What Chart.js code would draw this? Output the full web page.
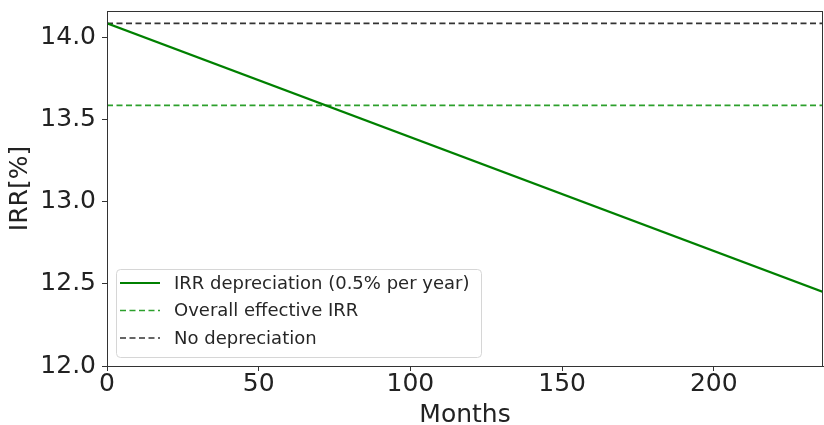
<!DOCTYPE html>
<html>
<head>
<meta charset="utf-8">
<script src="https://cdn.jsdelivr.net/npm/chart.js@4.4.0/dist/chart.umd.min.js"></script>
<style>
  html, body { margin: 0; padding: 0; background: #fff; }
  #wrap { width: 824px; height: 425px; }
</style>
</head>
<body>
<div id="wrap"><canvas id="irr_chart" width="824" height="425"></canvas></div>
<script>
// values
var months = [0, 236];
var irrDepreciation = [14.085, 12.45];
var overallEffective = [13.586, 13.586];
var noDepreciation = [14.085, 14.085];
var xTicks = [0, 50, 100, 150, 200];
var yTicks = [12.0, 12.5, 13.0, 13.5, 14.0];
var seriesLabels = ["IRR depreciation (0.5% per year)", "Overall effective IRR", "No depreciation"];

function pts(ys) {
    return months.map(function (m, i) { return { x: m, y: ys[i] }; });
}

// matplotlib-style frame + legend inside the axes
var framePlugin = {
    id: "frame",
    afterDraw: function (chart) {
        var c = chart.ctx, a = chart.chartArea;
        c.save();
        c.strokeStyle = "#333";
        c.lineWidth = 1;
        c.strokeRect(a.left + 0.5, a.top + 0.5, a.right - a.left - 1, a.bottom - a.top);

        // legend
        var bx = a.left + 9, by = a.bottom - 97, bw = 365, bh = 88, r = 4;
        c.fillStyle = "rgba(255,255,255,0.8)";
        c.strokeStyle = "#d6d6d6";
        c.beginPath();
        c.roundRect(bx + 0.5, by + 0.5, bw, bh, r);
        c.fill();
        c.stroke();
        c.font = "18px 'DejaVu Sans'";
        c.textBaseline = "middle";
        chart.data.datasets.forEach(function (ds, i) {
            var yy = by + 14 + i * 27.5;
            c.strokeStyle = ds.borderColor;
            c.lineWidth = ds.borderWidth;
            c.setLineDash(ds.borderDash || []);
            c.beginPath();
            c.moveTo(bx + 4, yy);
            c.lineTo(bx + 44, yy);
            c.stroke();
            c.setLineDash([]);
            c.fillStyle = "#262626";
            c.fillText(ds.label, bx + 58, yy + 1);
        });
        c.restore();
    }
};

var ctx = document.getElementById("irr_chart").getContext("2d");

new Chart(ctx, {
    type: "line",
    data: {
        datasets: [
            {
                label: seriesLabels[0],
                data: pts(irrDepreciation),
                borderColor: "#008000",
                borderWidth: 2.2,
                pointRadius: 0
            },
            {
                label: seriesLabels[1],
                data: pts(overallEffective),
                borderColor: "#2ca02c",
                borderWidth: 1.6,
                borderDash: [6, 3.5],
                pointRadius: 0
            },
            {
                label: seriesLabels[2],
                data: pts(noDepreciation),
                borderColor: "#333333",
                borderWidth: 1.6,
                borderDash: [6, 3.5],
                pointRadius: 0
            }
        ]
    },
    options: {
        responsive: false,
        animation: false,
        layout: { padding: { top: 11, right: 1, bottom: 0, left: 0 } },
        plugins: {
            legend: { display: false },
            tooltip: { enabled: false }
        },
        scales: {
            x: {
                type: "linear",
                min: 0,
                max: 236,
                afterBuildTicks: function (s) { s.ticks = xTicks.map(function (v) { return { value: v }; }); },
                afterFit: function (s) { s.height = 59; s.paddingLeft = 0; s.paddingRight = 0; },
                grid: { display: true, drawOnChartArea: false, drawTicks: true, tickLength: 5, tickColor: "#333" },
                border: { display: true, color: "#333" },
                ticks: {
                    color: "#222",
                    padding: 1,
                    maxRotation: 0,
                    font: { family: "DejaVu Sans", size: 25, lineHeight: 1.0 }
                },
                title: {
                    display: true,
                    text: "Months",
                    color: "#222",
                    padding: { top: 0, bottom: -3 },
                    font: { family: "DejaVu Sans", size: 25, lineHeight: 1.0 }
                }
            },
            y: {
                type: "linear",
                min: 12.0,
                max: 14.16,
                afterBuildTicks: function (s) { s.ticks = yTicks.map(function (v) { return { value: v }; }); },
                afterFit: function (s) { s.width = 107; s.paddingTop = 0; s.paddingBottom = 0; },
                grid: { display: true, drawOnChartArea: false, drawTicks: true, tickLength: 5, tickColor: "#333" },
                border: { display: true, color: "#333" },
                ticks: {
                    color: "#222",
                    padding: 6,
                    callback: function (v) { return Number(v).toFixed(1); },
                    font: { family: "DejaVu Sans", size: 25 }
                },
                title: {
                    display: true,
                    text: "IRR[%]",
                    color: "#222",
                    padding: { top: 8, bottom: 0 },
                    font: { family: "DejaVu Sans", size: 25, lineHeight: 1.0 }
                }
            }
        }
    },
    plugins: [framePlugin]
});
</script>
</body>
</html>
